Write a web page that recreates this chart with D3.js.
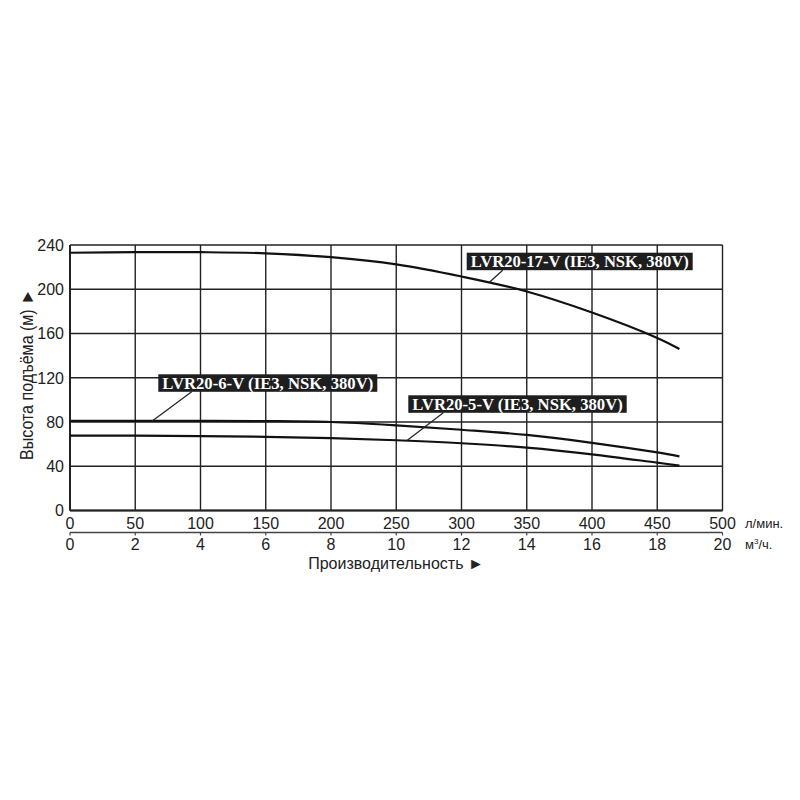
<!DOCTYPE html>
<html><head><meta charset="utf-8">
<script src="https://cdn.jsdelivr.net/npm/d3@7"></script>
<style>body{margin:0;background:#fff}svg{display:block}</style>
</head><body>
<svg id="c" width="800" height="800"></svg>
<script>
const flowLmin = [0, 50, 100, 150, 200, 250, 300, 350, 400, 450, 467];
const head17 = [233, 233.5, 233.5, 232.5, 229, 222.5, 211.5, 198, 179, 156, 146];
const head6 = [81, 81, 81, 80.8, 80, 77, 73, 68.3, 61.2, 52.5, 49];
const head5 = [67.7, 67.6, 67.3, 66.6, 65.4, 63.5, 60.8, 56.8, 50.8, 43.2, 40.6];
const xTicksLmin = [0, 50, 100, 150, 200, 250, 300, 350, 400, 450, 500];
const xTicksM3h = [0, 2, 4, 6, 8, 10, 12, 14, 16, 18, 20];
const yTicks = [0, 40, 80, 120, 160, 200, 240];
const seriesNames = ["LVR20-17-V (IE3, NSK, 380V)", "LVR20-6-V (IE3, NSK, 380V)", "LVR20-5-V (IE3, NSK, 380V)"];

const svg = d3.select("#c");
const x = d3.scaleLinear().domain([0, 500]).range([70, 722.5]);
const x2 = d3.scaleLinear().domain([0, 20]).range([70, 722.5]);
const y = d3.scaleLinear().domain([0, 240]).range([510.5, 245]);
const lineCol = "#222";

// grid
const g = svg.append("g");
g.selectAll("line.v").data(xTicksLmin).enter().append("line")
  .attr("x1", d => x(d)).attr("x2", d => x(d)).attr("y1", y(240)).attr("y2", y(0))
  .attr("stroke", lineCol).attr("stroke-width", 1.4);
g.selectAll("line.h").data(yTicks).enter().append("line")
  .attr("x1", x(0)).attr("x2", x(500)).attr("y1", d => y(d)).attr("y2", d => y(d))
  .attr("stroke", lineCol).attr("stroke-width", 1.4);
svg.append("line").attr("x1", x(0)).attr("x2", x(500)).attr("y1", y(0)).attr("y2", y(0)).attr("stroke", lineCol).attr("stroke-width", 2);
svg.append("line").attr("x1", x(0)).attr("x2", x(0)).attr("y1", y(240)).attr("y2", y(0)).attr("stroke", lineCol).attr("stroke-width", 2);

const font = "Liberation Sans, Arial, sans-serif";
svg.selectAll("text.yt").data(yTicks).enter().append("text")
  .attr("x", 64).attr("y", d => y(d)).attr("dy", "0.36em")
  .attr("text-anchor", "end").attr("font-family", font).attr("font-size", 16).attr("fill", "#222")
  .text(d => d);
svg.selectAll("text.xt").data(xTicksLmin).enter().append("text")
  .attr("x", d => x(d)).attr("y", 523).attr("dy", "0.36em")
  .attr("text-anchor", "middle").attr("font-family", font).attr("font-size", 16).attr("fill", "#222")
  .text(d => d);
const ax2 = svg.append("g").attr("transform", "translate(0,532.5)");
ax2.append("line").attr("x1", x2(0)).attr("x2", x2(20)).attr("stroke", "#444").attr("stroke-width", 1.4);
ax2.selectAll("line.t").data(xTicksM3h).enter().append("line")
  .attr("x1", d => x2(d)).attr("x2", d => x2(d)).attr("y1", 0).attr("y2", 3).attr("stroke", "#444").attr("stroke-width", 1.2);
svg.selectAll("text.xt2").data(xTicksM3h).enter().append("text")
  .attr("x", d => x2(d)).attr("y", 544).attr("dy", "0.36em")
  .attr("text-anchor", "middle").attr("font-family", font).attr("font-size", 16).attr("fill", "#222")
  .text(d => d);
svg.append("text").attr("x", 745).attr("y", 523).attr("dy", "0.36em").attr("font-family", font).attr("font-size", 13).attr("fill", "#222").text("л/мин.");
svg.append("text").attr("x", 745).attr("y", 544).attr("dy", "0.36em").attr("font-family", font).attr("font-size", 13).attr("fill", "#222")
  .html('м<tspan font-size="8" dy="-5">3</tspan><tspan dy="5">/ч.</tspan>');
svg.append("text").attr("x", 396).attr("y", 563).attr("dy", "0.36em").attr("text-anchor", "middle")
  .attr("font-family", font).attr("font-size", 16).attr("fill", "#222").text("Производительность ►");
svg.append("text").attr("transform", "translate(33,374.5) rotate(-90)").attr("text-anchor", "middle")
  .attr("font-family", font).attr("font-size", 18).attr("fill", "#222")
  .attr("textLength", 171).attr("lengthAdjust", "spacingAndGlyphs").text("Высота подъёма (м) ►");

// curves
const line = d3.line().x((d, i) => x(flowLmin[i])).y(d => y(d)).curve(d3.curveCatmullRom.alpha(0.5));
[head17, head6, head5].forEach(s => {
  svg.append("path").attr("d", line(s)).attr("fill", "none").attr("stroke", "#111").attr("stroke-width", 2.2);
});

function interp(s, q) {
  return d3.scaleLinear().domain(flowLmin).range(s)(q);
}
const lab = [
  {t: seriesNames[0], s: head17, q: 321, bx: 466.7, by: 252.7, bw: 226, lx: 502.7},
  {t: seriesNames[1], s: head6, q: 63, bx: 158.3, by: 374.3, bw: 219, lx: 191.7},
  {t: seriesNames[2], s: head5, q: 258, bx: 408.3, by: 395.3, bw: 218.4, lx: 443.3}
];
lab.forEach(l => {
  const bh = 17.5;
  svg.append("line").attr("x1", l.lx).attr("y1", l.by + bh).attr("x2", x(l.q)).attr("y2", y(interp(l.s, l.q)))
    .attr("stroke", "#222").attr("stroke-width", 1.2);
  svg.append("rect").attr("x", l.bx).attr("y", l.by).attr("width", l.bw).attr("height", bh).attr("fill", "#1e1e1e");
  svg.append("text").attr("x", l.bx + l.bw / 2).attr("y", l.by + bh / 2).attr("dy", "0.35em").attr("text-anchor", "middle")
    .attr("font-family", "Liberation Serif, Times New Roman, serif").attr("font-weight", "bold").attr("font-size", 16)
    .attr("fill", "#fff").attr("textLength", l.bw - 8).attr("lengthAdjust", "spacingAndGlyphs").text(l.t);
});
</script>
</body></html>
